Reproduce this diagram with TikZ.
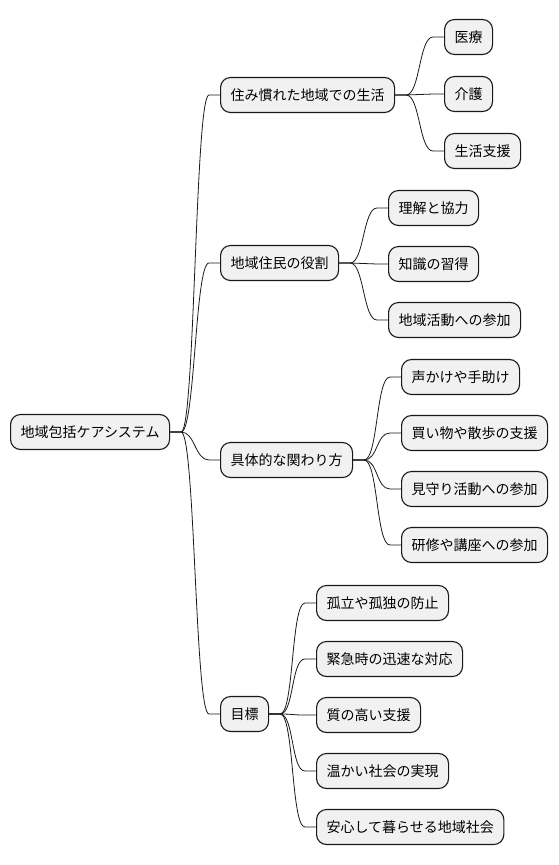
\documentclass[tikz,border=0pt]{standalone}
\usepackage{fontspec}
\setmainfont{Noto Sans CJK JP}
\usetikzlibrary{calc}
\tikzset{
  mm/.style={draw=black!90, fill=black!5.5, line width=1.1pt, rounded corners=10pt,
    minimum height=35pt, inner xsep=10pt, inner ysep=0pt, anchor=west,
    font=\fontsize{14pt}{16pt}\selectfont},
  link/.style={draw=black!90, line width=0.8pt},
}
\newcommand\mmlink[2]{\draw[link] (#1.east) -- ++(11pt,0) .. controls +(14pt,0) and +(-14pt,0) .. ($(#2.west)+(-11pt,0)$) -- (#2.west);}
\begin{document}
\begin{tikzpicture}[x=1pt,y=-1pt]
\useasboundingbox (0,0) rectangle (558,865);
\node[mm] (root) at (10,432) {地域包括ケアシステム};
\node[mm] (a) at (220,95) {住み慣れた地域での生活};
\node[mm] (b) at (220,263) {地域住民の役割};
\node[mm] (c) at (220,460) {具体的な関わり方};
\node[mm] (d) at (220,714) {目標};
\node[mm] (a1) at (444,37) {医療};
\node[mm] (a2) at (444,94) {介護};
\node[mm] (a3) at (444,151) {生活支援};
\node[mm] (b1) at (388,208) {理解と協力};
\node[mm] (b2) at (388,264) {知識の習得};
\node[mm] (b3) at (388,320) {地域活動への参加};
\node[mm] (c1) at (401,377) {声かけや手助け};
\node[mm] (c2) at (401,433) {買い物や散歩の支援};
\node[mm] (c3) at (401,489) {見守り活動への参加};
\node[mm] (c4) at (401,545) {研修や講座への参加};
\node[mm] (d1) at (316,603) {孤立や孤独の防止};
\node[mm] (d2) at (316,659) {緊急時の迅速な対応};
\node[mm] (d3) at (316,715) {質の高い支援};
\node[mm] (d4) at (316,771) {温かい社会の実現};
\node[mm] (d5) at (316,827) {安心して暮らせる地域社会};
\foreach \p/\c in {root/a,root/b,root/c,root/d,a/a1,a/a2,a/a3,b/b1,b/b2,b/b3,c/c1,c/c2,c/c3,c/c4,d/d1,d/d2,d/d3,d/d4,d/d5}{\mmlink{\p}{\c}}
\end{tikzpicture}
\end{document}
